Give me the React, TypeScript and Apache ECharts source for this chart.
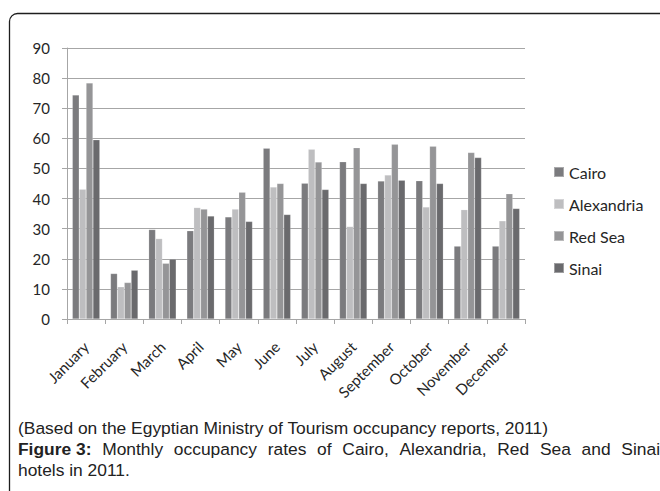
import React, { useEffect, useRef } from "react";
import * as echarts from "echarts";

const months = ["January", "February", "March", "April", "May", "June", "July", "August", "September", "October", "November", "December"];
const cairo = [74.4, 15.1, 29.7, 29.3, 33.9, 56.7, 45.1, 52.2, 45.8, 45.9, 24.2, 24.2];
const alexandria = [43.1, 10.7, 26.7, 37.0, 36.5, 43.8, 56.4, 30.7, 47.8, 37.2, 36.3, 32.6];
const redSea = [78.4, 12.1, 18.5, 36.5, 42.1, 45.0, 52.1, 56.9, 58.0, 57.4, 55.3, 41.6];
const sinai = [59.5, 16.2, 19.9, 34.2, 32.4, 34.7, 43.0, 45.0, 46.1, 45.0, 53.6, 36.7];
const seriesNames = ["Cairo", "Alexandria", "Red Sea", "Sinai"];
const seriesColors = ["#7b7b7e", "#bebec0", "#959597", "#6a6a6d"];
const captionLine1 = "(Based on the Egyptian Ministry of Tourism occupancy reports, 2011)";
const captionBold = "Figure 3:";
const captionLine2Words = ["Monthly", "occupancy", "rates", "of", "Cairo,", "Alexandria,", "Red", "Sea", "and", "Sinai"];
const captionLine3 = "hotels in 2011.";

const FONT = "Lato, 'Open Sans', sans-serif";
const CAP_FONT = "17.4px 'Liberation Sans', Arial, sans-serif";
const CAP_BOLD = "bold 17.4px 'Liberation Sans', Arial, sans-serif";

function measure(text: string, font: string): number {
  const c = document.createElement("canvas").getContext("2d");
  if (!c) return text.length * 8;
  c.font = font;
  return c.measureText(text).width;
}

export default function App() {
  const ref = useRef<HTMLDivElement>(null);
  useEffect(() => {
    if (!ref.current) return;
    const chart = echarts.init(ref.current, undefined, { renderer: "svg" });
    const values = [cairo, alexandria, redSea, sinai];

    // justified second caption line
    const x0 = 18;
    const x1 = 660;
    const words = [{ t: captionBold, f: CAP_BOLD }].concat(captionLine2Words.map((w) => ({ t: w, f: CAP_FONT })));
    const widths = words.map((w) => measure(w.t, w.f));
    const total = widths.reduce((a, b) => a + b, 0);
    const gap = Math.max(4, (x1 - x0 - total) / (words.length - 1));
    let cx = x0;
    const line2 = words.map((w, i) => {
      const el = {
        type: "text",
        x: cx,
        y: 440,
        style: { text: w.t, font: w.f, fill: "#222" },
      };
      cx += widths[i] + gap;
      return el;
    });

    chart.setOption({
      animation: false,
      backgroundColor: "#ffffff",
      grid: { left: 67, right: 135, top: 48, bottom: 172, containLabel: false },
      legend: {
        orient: "vertical",
        left: 553,
        top: 164,
        padding: 0,
        icon: "rect",
        itemWidth: 10,
        itemHeight: 10,
        itemGap: 16,
        textStyle: { fontFamily: FONT, fontSize: 16, color: "#262626", lineHeight: 16 },
        data: seriesNames,
      },
      xAxis: {
        type: "category",
        data: months,
        boundaryGap: true,
        axisLine: { lineStyle: { color: "#a6a6a6", width: 1 } },
        axisTick: { show: true, alignWithLabel: false, length: 5, lineStyle: { color: "#a6a6a6" } },
        axisLabel: {
          rotate: 45,
          margin: 25,
          padding: [25, 0, 0, 0],
          fontFamily: FONT,
          fontSize: 15,
          color: "#262626",
          interval: 0,
        },
      },
      yAxis: {
        type: "value",
        min: 0,
        max: 90,
        interval: 10,
        axisLine: { show: true, lineStyle: { color: "#a6a6a6", width: 1 } },
        axisTick: { show: true, length: 5, lineStyle: { color: "#a6a6a6" } },
        axisLabel: { margin: 17, fontFamily: FONT, fontSize: 15, color: "#262626" },
        splitLine: { show: true, lineStyle: { color: "#a6a6a6", width: 1 } },
      },
      series: seriesNames.map((name, i) => ({
        name,
        type: "bar",
        data: values[i],
        barGap: "0%",
        barCategoryGap: "28%",
        itemStyle: { color: seriesColors[i], borderColor: "rgba(255,255,255,0.35)", borderWidth: 0.5 },
      })),
      graphic: [
        {
          type: "rect",
          shape: { x: 9.5, y: 13.5, width: 700, height: 520, r: 8 },
          style: { fill: "none", stroke: "#1e1e1e", lineWidth: 1.3 },
          silent: true,
        },
        {
          type: "text",
          x: 18,
          y: 419,
          style: { text: captionLine1, font: CAP_FONT, fill: "#222" },
        },
        ...line2,
        {
          type: "text",
          x: 18,
          y: 461,
          style: { text: captionLine3, font: CAP_FONT, fill: "#222" },
        },
      ],
    });
    return () => chart.dispose();
  }, []);
  return <div ref={ref} style={{ position: "fixed", left: 0, top: 0, width: 660, height: 491 }} />;
}
